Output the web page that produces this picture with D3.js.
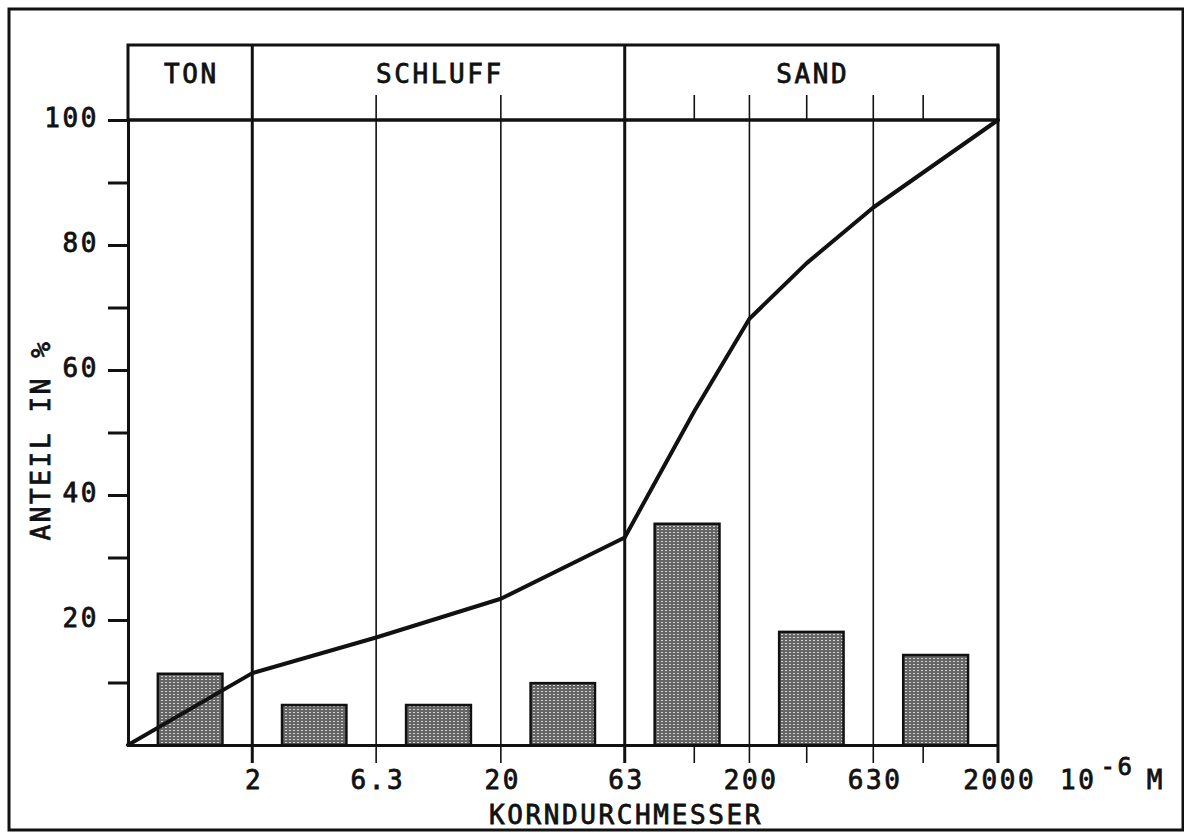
<!DOCTYPE html>
<html>
<head>
<meta charset="utf-8">
<script src="https://cdn.jsdelivr.net/npm/d3@7"></script>
<style>
  body { margin: 0; background: #fff; }
  svg { display: block; }
  text { font-family: "DejaVu Sans Mono", monospace; font-size: 26px; letter-spacing: 2.6px; fill: #111;
         stroke: #111; stroke-width: 0.8px; }
</style>
</head>
<body>
<svg id="chart" width="1184" height="833"></svg>
<script>
// class boundaries of grain size (10^-6 m), first one is the left edge of the plot
var classBounds = [0.6325, 2, 6.3, 20, 63, 200, 630, 2000];
var boundLabels = ["2", "6.3", "20", "63", "200", "630", "2000"];
// share of each class in %
var barShares = [11.4, 6.4, 6.4, 9.9, 35.4, 18.1, 14.4];
// cumulative curve
var cumSizes  = [0.6325, 2, 6.3, 20, 63, 120, 200, 340, 630, 2000];
var cumValues = [0, 11.5, 17.2, 23.4, 33.2, 53.4, 68.2, 77.1, 86, 100];
// small ticks inside the sand class
var sandTicks = [120, 340, 1000];
var yTicks = [10, 20, 30, 40, 50, 60, 70, 80, 90, 100];
var groups = ["TON", "SCHLUFF", "SAND"];
var groupBounds = [[0.6325, 2], [2, 63], [63, 2000]];
var thickBounds = [2, 63];

var svg = d3.select("#chart");
var margin = { left: 128, top: 120, right: 186, bottom: 88 };
var W = 1184, H = 833;
var headerTop = 45, tickTop = 95, tickLen = 18;

var x = d3.scaleLog().domain([classBounds[0], 2000]).range([margin.left, W - margin.right]);
var y = d3.scaleLinear().domain([0, 100]).range([H - margin.bottom, margin.top]);

// pattern for the bars
var defs = svg.append("defs");
var pat = defs.append("pattern").attr("id", "dots")
    .attr("patternUnits", "userSpaceOnUse").attr("width", 4).attr("height", 3);
pat.append("rect").attr("width", 4).attr("height", 3).attr("fill", "#666");
pat.append("rect").attr("x", 1).attr("y", 1).attr("width", 2).attr("height", 1).attr("fill", "#d0d0d0");

// outer frame
svg.append("rect").attr("x", 9).attr("y", 9).attr("width", 1174).attr("height", 821)
    .attr("fill", "none").attr("stroke", "#111").attr("stroke-width", 3);

// header box
svg.append("rect")
    .attr("x", x(classBounds[0])).attr("y", headerTop)
    .attr("width", x(2000) - x(classBounds[0])).attr("height", y(100) - headerTop)
    .attr("fill", "none").attr("stroke", "#111").attr("stroke-width", 3);

svg.selectAll("text.group").data(groups).enter().append("text")
    .attr("class", "group")
    .attr("x", function(d, i) { return (x(groupBounds[i][0]) + x(groupBounds[i][1])) / 2 + 1.3; })
    .attr("y", 83)
    .attr("text-anchor", "middle")
    .text(function(d) { return d; });

// vertical class lines
svg.selectAll("line.cls").data(classBounds.slice(1)).enter().append("line")
    .attr("class", "cls")
    .attr("x1", function(d) { return x(d); }).attr("x2", function(d) { return x(d); })
    .attr("y1", function(d) { return (thickBounds.indexOf(d) >= 0 || d == 2000) ? headerTop : tickTop; })
    .attr("y2", y(0) + tickLen)
    .attr("stroke", "#111")
    .attr("stroke-width", function(d) { return (thickBounds.indexOf(d) >= 0 || d == 2000) ? 3 : 1.6; });

// small sand ticks, top and bottom
sandTicks.forEach(function(d) {
  svg.append("line").attr("x1", x(d)).attr("x2", x(d)).attr("y1", tickTop).attr("y2", y(100))
      .attr("stroke", "#111").attr("stroke-width", 1.6);
  svg.append("line").attr("x1", x(d)).attr("x2", x(d)).attr("y1", y(0)).attr("y2", y(0) + tickLen)
      .attr("stroke", "#111").attr("stroke-width", 1.6);
});

// bars
svg.selectAll("rect.bar").data(barShares).enter().append("rect")
    .attr("class", "bar")
    .attr("x", function(d, i) { var lo = x(classBounds[i]), hi = x(classBounds[i + 1]); return lo + (hi - lo) * 0.24; })
    .attr("width", function(d, i) { return (x(classBounds[i + 1]) - x(classBounds[i])) * 0.52; })
    .attr("y", function(d) { return y(d); })
    .attr("height", function(d) { return y(0) - y(d); })
    .attr("fill", "url(#dots)").attr("stroke", "#111").attr("stroke-width", 2.5);

// axes
var xAxis = d3.axisBottom(x).tickValues(classBounds.slice(1)).tickSize(0).tickSizeOuter(0)
    .tickFormat(function(d, i) { return boundLabels[i]; });
var gx = svg.append("g").attr("transform", "translate(0," + y(0) + ")").call(xAxis);
gx.select(".domain").attr("stroke", "#111").attr("stroke-width", 3);
gx.selectAll(".tick text").attr("y", 44).attr("dy", 0)
    .attr("transform", "translate(1.3,0)")
    .style("font-family", "DejaVu Sans Mono").style("font-size", "26px").style("fill", "#111");

var yAxis = d3.axisLeft(y).tickValues(yTicks).tickSize(20).tickSizeOuter(0)
    .tickFormat(function(d) { return d % 20 === 0 ? d : ""; });
var gy = svg.append("g").attr("transform", "translate(" + margin.left + ",0)").call(yAxis);
gy.select(".domain").attr("stroke", "#111").attr("stroke-width", 3);
gy.selectAll(".tick line").attr("stroke", "#111").attr("stroke-width", 3);
gy.selectAll(".tick text").attr("x", -29).attr("dy", "0.26em")
    .style("font-family", "DejaVu Sans Mono").style("font-size", "26px").style("fill", "#111");

// 100 % line across the plot
svg.append("line").attr("x1", x(classBounds[0])).attr("x2", x(2000)).attr("y1", y(100)).attr("y2", y(100))
    .attr("stroke", "#111").attr("stroke-width", 3);

// cumulative curve
var line = d3.line()
    .x(function(d, i) { return x(cumSizes[i]); })
    .y(function(d) { return y(d); });
svg.append("path").datum(cumValues)
    .attr("d", line)
    .attr("fill", "none").attr("stroke", "#111").attr("stroke-width", 4)
    .attr("stroke-linejoin", "round").attr("stroke-linecap", "round");

// axis titles
svg.append("text").attr("x", 626).attr("y", 824).attr("text-anchor", "middle").text("KORNDURCHMESSER");
svg.append("text").attr("transform", "translate(50,440) rotate(-90)").attr("text-anchor", "middle").text("ANTEIL IN %");

var unit = svg.append("text").attr("x", 1060).attr("y", 789);
unit.append("tspan").text("10");
unit.append("tspan").attr("dx", 4).attr("dy", -14).style("font-size", "24px").text("-6");
unit.append("tspan").attr("dx", 12).attr("dy", 14).text("M");
</script>
</body>
</html>
